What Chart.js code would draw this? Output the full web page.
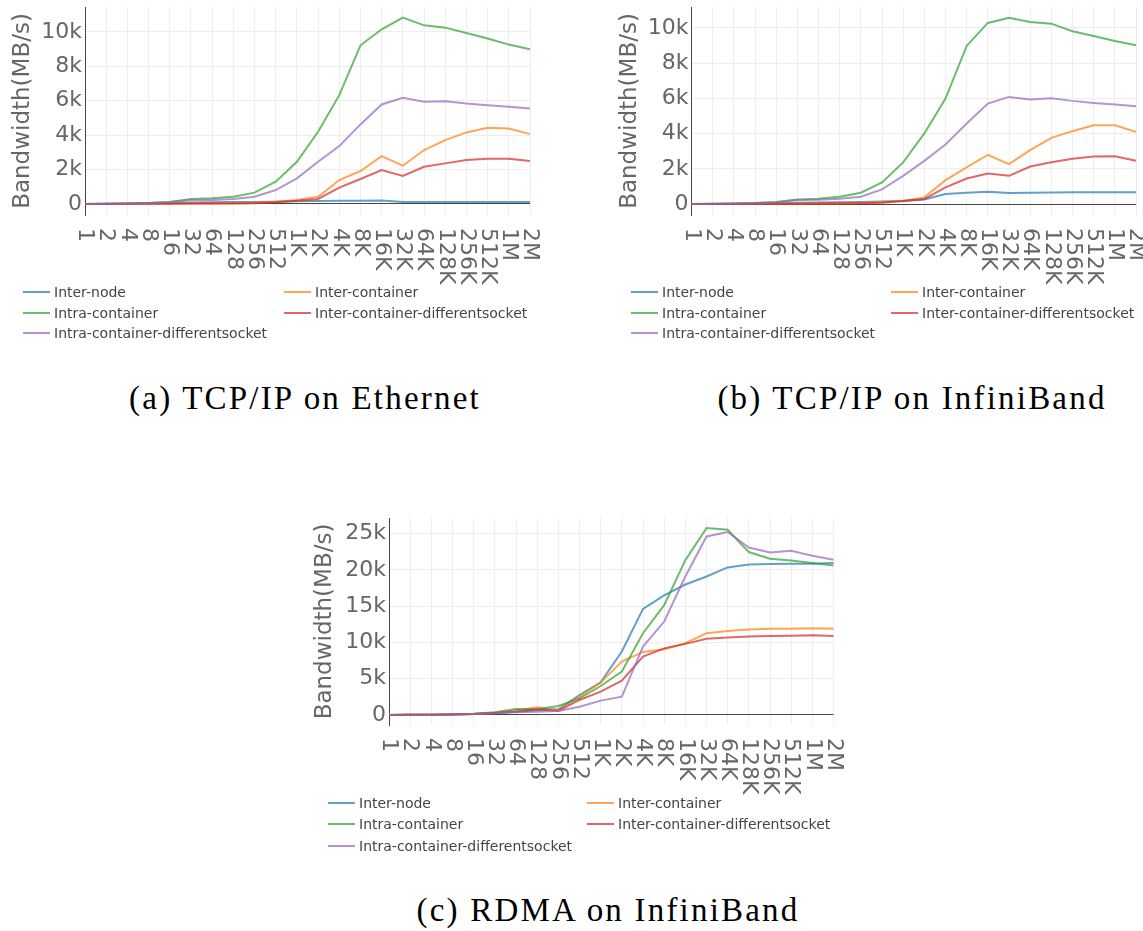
<!DOCTYPE html>
<html>
<head>
<meta charset="utf-8">
<script src="https://cdn.jsdelivr.net/npm/chart.js@4.4.1/dist/chart.umd.min.js"></script>
<style>
  body { margin: 0; background: #fff; width: 1143px; height: 931px; position: relative; overflow: hidden; font-family: "DejaVu Sans"; }
  canvas { position: absolute; }
  .leg { position: absolute; height: 20px; font-size: 14px; color: #444; white-space: nowrap; }
  .leg i { position: absolute; left: 0; top: 9px; width: 27px; height: 2px; }
  .leg span { position: absolute; top: 0; line-height: 20px; }
  .cap { position: absolute; width: 600px; text-align: center; font: 33px/33px "Liberation Serif"; letter-spacing: 2.2px; color: #000; }
</style>
</head>
<body>
<canvas id="ethChart" style="left:0;top:0" width="560" height="290"></canvas>
<canvas id="ibChart" style="left:600px;top:0" width="543" height="290"></canvas>
<canvas id="rdmaChart" style="left:300px;top:510px" width="545" height="290"></canvas>
<div class="cap" style="left:5px;top:382px">(a) TCP/IP on Ethernet</div>
<div class="cap" style="left:612px;top:382px">(b) TCP/IP on InfiniBand</div>
<div class="cap" style="left:308px;top:894px">(c) RDMA on InfiniBand</div>
<script>
const sizes = ['1', '2', '4', '8', '16', '32', '64', '128', '256', '512', '1K', '2K', '4K', '8K', '16K', '32K', '64K', '128K', '256K', '512K', '1M', '2M'];
const seriesNames = ['Inter-node', 'Inter-container', 'Intra-container', 'Inter-container-differentsocket', 'Intra-container-differentsocket'];
const seriesColors = ['rgba(31,119,180,0.7)', 'rgba(255,127,14,0.7)', 'rgba(44,160,44,0.7)', 'rgba(214,39,40,0.7)', 'rgba(148,103,189,0.7)'];

// y tick values, labelled 0, 2k, 4k ...
const tcpTicks = [0, 2000, 4000, 6000, 8000, 10000];
const rdmaTicks = [0, 5000, 10000, 15000, 20000, 25000];

// (a) TCP/IP on Ethernet, MB/s
const ethInterNode = [5, 10, 20, 35, 60, 80, 95, 110, 120, 130, 160, 180, 190, 195, 200, 110, 110, 110, 110, 110, 110, 110];
const ethInterContainer = [3, 6, 10, 15, 20, 25, 30, 40, 55, 135, 232, 425, 1390, 1915, 2785, 2225, 3135, 3715, 4160, 4430, 4390, 4060];
const ethIntraContainer = [5, 15, 30, 60, 116, 290, 330, 425, 660, 1300, 2455, 4200, 6325, 9225, 10155, 10830, 10385, 10250, 9940, 9615, 9265, 8995];
const ethInterContainerDS = [3, 5, 8, 12, 18, 22, 28, 35, 50, 97, 195, 290, 950, 1450, 1975, 1625, 2165, 2360, 2555, 2630, 2630, 2495];
const ethIntraContainerDS = [5, 15, 30, 55, 110, 230, 235, 290, 425, 810, 1490, 2455, 3365, 4625, 5785, 6170, 5940, 5975, 5840, 5745, 5650, 5550];

// (b) TCP/IP on InfiniBand
const ibInterNode = [5, 10, 20, 35, 60, 80, 95, 110, 120, 140, 170, 265, 570, 640, 700, 625, 650, 660, 665, 670, 670, 670];
const ibInterContainer = [3, 6, 10, 15, 20, 25, 30, 40, 60, 115, 190, 380, 1360, 2080, 2800, 2270, 3060, 3760, 4140, 4480, 4480, 4100];
const ibIntraContainer = [5, 15, 30, 60, 120, 265, 300, 415, 645, 1230, 2365, 4010, 5990, 8980, 10285, 10585, 10340, 10245, 9810, 9545, 9265, 9015];
const ibInterContainerDS = [3, 5, 8, 12, 18, 22, 28, 35, 50, 76, 170, 285, 945, 1455, 1740, 1605, 2135, 2380, 2570, 2705, 2720, 2455];
const ibIntraContainerDS = [5, 15, 30, 55, 110, 235, 250, 300, 415, 830, 1605, 2455, 3385, 4575, 5710, 6085, 5935, 6010, 5860, 5745, 5650, 5560];

// (c) RDMA on InfiniBand
const rdmaInterNode = [10, 20, 40, 80, 140, 280, 450, 650, 780, 2760, 4510, 8750, 14640, 16500, 18000, 19100, 20350, 20760, 20810, 20850, 20860, 20950];
const rdmaInterContainer = [10, 20, 40, 80, 140, 280, 650, 1060, 690, 2530, 4470, 7370, 8700, 9070, 9900, 11280, 11600, 11780, 11880, 11880, 11970, 11880];
const rdmaIntraContainer = [10, 20, 40, 90, 170, 370, 830, 780, 1240, 2300, 4000, 5985, 11280, 15150, 21350, 25780, 25550, 22470, 21550, 21310, 20950, 20620];
const rdmaInterContainerDS = [10, 20, 40, 80, 140, 280, 450, 800, 550, 2070, 3220, 4740, 8060, 9190, 9810, 10500, 10680, 10815, 10910, 10930, 11010, 10910];
const rdmaIntraContainerDS = [10, 20, 40, 70, 130, 250, 370, 450, 550, 1150, 1980, 2530, 9440, 12890, 19100, 24630, 25230, 23100, 22420, 22650, 21960, 21410];

const tickGray = '#666';
Chart.defaults.font.family = '"DejaVu Sans"';

// plotly-style x labels, turned clockwise and hanging under each tick
const rotatedLabels = {
  id: 'rotatedLabels',
  afterDraw(chart) {
    const ctx = chart.ctx, xs = chart.scales.x;
    ctx.save();
    ctx.font = '22px "DejaVu Sans"';
    ctx.fillStyle = tickGray;
    ctx.textAlign = 'left';
    ctx.textBaseline = 'middle';
    chart.data.labels.forEach((lab, i) => {
      ctx.save();
      ctx.translate(xs.getPixelForValue(i), chart.chartArea.bottom + 13);
      ctx.rotate(Math.PI / 2);
      ctx.fillText(lab, 0, 0);
      ctx.restore();
    });
    ctx.restore();
  }
};

function drawPanel(id, series, yMin, yMax, yTicks, box) {
  const canvas = document.getElementById(id);
  return new Chart(canvas, {
    type: 'line',
    data: {
      labels: sizes,
      datasets: series.map((d, i) => ({
        label: seriesNames[i],
        data: d,
        borderColor: seriesColors[i],
        backgroundColor: seriesColors[i],
        borderWidth: 2,
        pointRadius: 0,
        tension: 0,
        fill: false,
        order: series.length - i
      }))
    },
    options: {
      responsive: false,
      animation: false,
      events: [],
      layout: { padding: { left: 0, top: box.top, right: canvas.width - box.right, bottom: 0 } },
      plugins: { legend: { display: false }, tooltip: { enabled: false } },
      scales: {
        x: {
          offset: false,
          grid: { color: '#eee', drawTicks: false },
          border: { display: false },
          ticks: { display: false },
          afterFit: s => { s.height = canvas.height - box.bottom; s.paddingLeft = 0; s.paddingRight = 0; }
        },
        y: {
          min: yMin,
          max: yMax,
          grid: { color: c => (c.tick && c.tick.value === 0 ? '#444' : '#eee'), drawTicks: false },
          border: { display: true, color: '#444' },
          afterBuildTicks: s => { s.ticks = yTicks.map(v => ({ value: v })); },
          ticks: {
            padding: 3,
            color: tickGray,
            font: { size: 22 },
            callback: v => (v === 0 ? '0' : v / 1000 + 'k')
          },
          title: { display: true, text: 'Bandwidth(MB/s)', color: tickGray, font: { size: 23 }, padding: { top: box.titlePad, bottom: 0 } },
          afterFit: s => { s.width = box.left; s.paddingTop = 0; s.paddingBottom = 0; }
        }
      }
    },
    plugins: [rotatedLabels]
  });
}

function addLegend(chart, lineXs, rowYs) {
  chart.data.datasets.forEach((ds, i) => {
    const col = i % 2, row = Math.floor(i / 2);
    const item = document.createElement('div');
    item.className = 'leg';
    item.style.left = lineXs[col] + 'px';
    item.style.top = (rowYs[row] - 10) + 'px';
    item.innerHTML = '<i style="background:' + ds.borderColor + '"></i><span style="left:31px">' + ds.label + '</span>';
    document.body.appendChild(item);
  });
}

const ethChart = drawPanel('ethChart',
  [ethInterNode, ethInterContainer, ethIntraContainer, ethInterContainerDS, ethIntraContainerDS],
  -640, 11450, tcpTicks, { left: 85, right: 530, top: 7, bottom: 215, titlePad: 9 });
const ibChart = drawPanel('ibChart',
  [ibInterNode, ibInterContainer, ibIntraContainer, ibInterContainerDS, ibIntraContainerDS],
  -620, 11190, tcpTicks, { left: 91.5, right: 536, top: 7, bottom: 215, titlePad: 16 });
const rdmaChart = drawPanel('rdmaChart',
  [rdmaInterNode, rdmaInterContainer, rdmaIntraContainer, rdmaInterContainerDS, rdmaIntraContainerDS],
  -1380, 27170, rdmaTicks, { left: 89, right: 533.5, top: 8, bottom: 215, titlePad: 11.5 });

addLegend(ethChart, [23, 284], [292, 313, 333]);
addLegend(ibChart, [631, 891], [292, 313, 333]);
addLegend(rdmaChart, [328, 587], [803, 824, 846]);
</script>
</body>
</html>
